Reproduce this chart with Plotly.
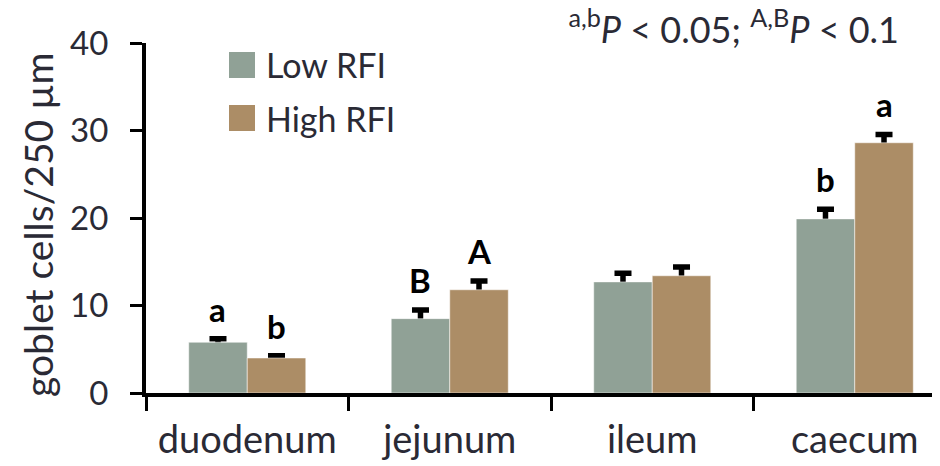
import plotly.graph_objects as go

categories = ["duodenum", "jejunum", "ileum", "caecum"]
low_rfi = [5.8, 8.5, 12.7, 19.9]
low_err = [0.4, 1.0, 1.0, 1.1]
high_rfi = [4.0, 11.8, 13.4, 28.6]
high_err = [0.25, 1.0, 1.0, 0.95]
low_letters = ["a", "B", "", "b"]
high_letters = ["b", "A", "", "a"]
series_names = ["Low RFI", "High RFI"]
series_colors = ["#90a196", "#ac8d66"]
y_ticks = [0, 10, 20, 30, 40]

FONT = "Lato"
TXT = "#2a2a35"
BW = 0.289

# page body has an 8px margin, compensate in figure coordinates
L, T, PH = 138, 35, 350
W, H = 940, 466
PW = W - L
CAT_PX = 202.5

xs = list(range(len(categories)))
fig = go.Figure()

series = [(low_rfi, low_err, -BW), (high_rfi, high_err, 0.0)]
# error bars first (drawn under the bars so only the upper half shows)
for vals, errs, off in series:
    fig.add_trace(go.Bar(
        x=xs, y=vals, width=BW, offset=off, showlegend=False, hoverinfo="skip",
        marker=dict(color="rgba(0,0,0,0)", line=dict(width=0)),
        error_y=dict(type="data", array=errs, symmetric=True, color="black",
                     thickness=5.5, width=8.5),
    ))
for (vals, errs, off), name, col in zip(series, series_names, series_colors):
    fig.add_trace(go.Bar(
        x=xs, y=vals, width=BW, offset=off, name=name, showlegend=False,
        marker=dict(color=col, line=dict(width=1, color="rgba(255,255,255,0.5)")),
    ))

annotations = []
for vals, errs, letters, sgn in [(low_rfi, low_err, low_letters, -1), (high_rfi, high_err, high_letters, 1)]:
    for i, (v, e, t) in enumerate(zip(vals, errs, letters)):
        if t:
            annotations.append(dict(
                x=i + sgn * BW / 2, y=v + e, xref="x", yref="y", text="<b>%s</b>" % t,
                showarrow=False, yanchor="bottom", yshift=8,
                font=dict(family=FONT, size=33, color="black")))

def px_x(sx):
    return (sx - 8 - L) / PW

def px_y(sy):
    return (T + PH - (sy - 8)) / PH

# legend (manual, large swatches)
shapes = []
for k, (name, col) in enumerate(zip(series_names, series_colors)):
    ytop = 52 + k * 53
    shapes.append(dict(type="rect", xref="paper", yref="paper",
                       x0=px_x(229), x1=px_x(255), y0=px_y(ytop), y1=px_y(ytop + 26),
                       fillcolor=col, line=dict(width=0)))
    annotations.append(dict(x=px_x(264), y=px_y(ytop + 13), xref="paper", yref="paper",
                            text=name, showarrow=False, xanchor="left", yanchor="middle",
                            font=dict(family=FONT, size=34, color=TXT)))

annotations.append(dict(x=px_x(38), y=px_y(225), xref="paper", yref="paper",
                        xanchor="center", yanchor="middle", textangle=-90, showarrow=False,
                        text="goblet cells/250 µm", font=dict(family=FONT, size=39, color=TXT)))

fig.update_layout(
    width=W, height=H, margin=dict(l=L, r=0, t=T, b=H - T - PH),
    paper_bgcolor="white", plot_bgcolor="white", barmode="overlay",
    annotations=annotations, shapes=shapes, showlegend=False,
    font=dict(family=FONT, color=TXT),
    title=dict(text="<sup>a,b</sup><i>P</i> < 0.05; <sup>A,B</sup><i>P</i> < 0.1",
               xref="container", yref="container", x=(899 - 8) / W, xanchor="right",
               y=1 - (30 - 8) / H, yanchor="middle",
               font=dict(family=FONT, size=36, color=TXT)),
)
fig.update_xaxes(
    range=[-0.5, -0.5 + PW / CAT_PX], tickmode="array", tickvals=xs, ticktext=categories,
    showline=True, linecolor="black", linewidth=4, showgrid=False, zeroline=False,
    ticks="", tickfont=dict(family=FONT, size=38, color=TXT), ticklabelstandoff=10,
    automargin=False,
)
# boundary ticks at category edges
fig.update_xaxes(minor=dict(tickmode="array", tickvals=[-0.5, 0.5, 1.5, 2.5],
                            ticks="outside", ticklen=14, tickwidth=3, tickcolor="black"))
fig.update_yaxes(
    range=[0, 40], tickvals=y_ticks, showline=True, linecolor="black", linewidth=4,
    showgrid=False, zeroline=False, ticks="outside", ticklen=12, tickwidth=3, tickcolor="black",
    tickfont=dict(family=FONT, size=33, color=TXT), ticklabelstandoff=15, automargin=False,
)
fig.write_html("out.html")
